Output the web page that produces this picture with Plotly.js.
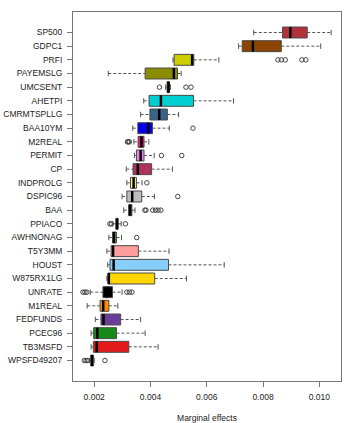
<!DOCTYPE html>
<html>
<head>
<meta charset="utf-8">
<script src="https://cdn.plot.ly/plotly-3.0.1.min.js"></script>
<style>
  html, body { margin: 0; padding: 0; background: #fff; }
  #chart { width: 353px; height: 423px; }
</style>
</head>
<body>
<div id="chart"></div>
<script>
// variables, top to bottom as drawn
var labels = ["SP500", "GDPC1", "PRFI", "PAYEMSLG", "UMCSENT", "AHETPI", "CMRMTSPLLG",
    "BAA10YM", "M2REAL", "PERMIT", "CP", "INDPROLG", "DSPIC96", "BAA", "PPIACO",
    "AWHNONAG", "T5Y3MM", "HOUST", "W875RX1LG", "UNRATE", "M1REAL", "FEDFUNDS",
    "PCEC96", "TB3MSFD", "WPSFD49207"];

// five number summaries
var lowWhisker = [0.00767, 0.00713, 0.00480, 0.00250, 0.00454, 0.00376, 0.00365,
    0.00337, 0.00341, 0.00343, 0.00314, 0.00316, 0.00299, 0.00305, 0.00266,
    0.00252, 0.00245, 0.00248, 0.00245, 0.00186, 0.00175, 0.00204,
    0.00189, 0.00189, 0.00184];
var q1 = [0.00869, 0.00726, 0.00484, 0.00381, 0.00459, 0.00395, 0.00398,
    0.00355, 0.00356, 0.00350, 0.00338, 0.00329, 0.00316, 0.00322, 0.00277,
    0.00265, 0.00260, 0.00256, 0.00249, 0.00231, 0.00221, 0.00224,
    0.00198, 0.00197, 0.00188];
var median = [0.00897, 0.00764, 0.00548, 0.00483, 0.00464, 0.00437, 0.00431,
    0.00392, 0.00368, 0.00365, 0.00355, 0.00340, 0.00335, 0.00328, 0.00281,
    0.00271, 0.00267, 0.00269, 0.00252, 0.00245, 0.00232, 0.00233,
    0.00211, 0.00209, 0.00192];
var q3 = [0.00957, 0.00865, 0.00554, 0.00496, 0.00467, 0.00553, 0.00460,
    0.00407, 0.00377, 0.00377, 0.00404, 0.00350, 0.00369, 0.00334, 0.00285,
    0.00279, 0.00357, 0.00464, 0.00415, 0.00265, 0.00252, 0.00294,
    0.00279, 0.00323, 0.00197];
var highWhisker = [0.01042, 0.01005, 0.00643, 0.00509, 0.00471, 0.00695, 0.00500,
    0.00467, 0.00394, 0.00413, 0.00478, 0.00370, 0.00414, 0.00345, 0.00296,
    0.00297, 0.00466, 0.00662, 0.00528, 0.00299, 0.00284, 0.00365,
    0.00381, 0.00427, 0.00200];
var outliers = [
    [], [],
    [0.00853, 0.00865, 0.00879, 0.00938, 0.00952],
    [],
    [0.00432, 0.00526, 0.00544],
    [], [],
    [0.00551],
    [0.00318, 0.00321, 0.00325],
    [0.00439, 0.00511],
    [],
    [0.00387],
    [0.00497],
    [0.00380, 0.00384, 0.00408, 0.00418, 0.00427, 0.00437],
    [0.00256, 0.00261, 0.00311],
    [0.00351],
    [], [], [],
    [0.00160, 0.00167, 0.00174, 0.00316, 0.00325, 0.00334],
    [], [], [], [],
    [0.00165, 0.00171, 0.00176, 0.00238]
];

var fills = ["#B2323A", "#8B4500", "#CDCD00", "#8B8B00", "#008B00", "#00CED1", "#36648B",
    "#0000EE", "#EE1289", "#EE82EE", "#B03060", "#FFF68F", "#BEBEBE", "#F4A460", "#C9C3EA",
    "#90EE90", "#FF9C9C", "#87CEFA", "#FFD700", "#000000", "#FF8C00", "#6A3D9A",
    "#15891A", "#E31A1C", "#222222"];

var n = labels.length;
var pos = labels.map(function (d, i) { return n - i; });

// whisker lines and staples
var wx = [], wy = [], sx = [], sy = [], mx = [], my = [], ox = [], oy = [];
for (var i = 0; i < n; i++) {
    var y = pos[i];
    wx.push(lowWhisker[i], q1[i], null, q3[i], highWhisker[i], null);
    wy.push(y, y, null, y, y, null);
    sx.push(lowWhisker[i], lowWhisker[i], null, highWhisker[i], highWhisker[i], null);
    sy.push(y - 0.2, y + 0.2, null, y - 0.2, y + 0.2, null);
    mx.push(median[i], median[i], null);
    my.push(y - 0.4, y + 0.4, null);
    outliers[i].forEach(function (v) { ox.push(v); oy.push(y); });
}

var whiskers = {
    x: wx, y: wy, type: 'scatter', mode: 'lines',
    line: { color: '#555', width: 1, dash: '3px,2px' },
    hoverinfo: 'skip'
};
var staples = {
    x: sx, y: sy, type: 'scatter', mode: 'lines',
    line: { color: '#555', width: 1 },
    hoverinfo: 'skip'
};
var boxes = {
    y: pos,
    x: q3.map(function (v, i) { return v - q1[i]; }),
    base: q1,
    type: 'bar', orientation: 'h', width: 0.8,
    marker: { color: fills, line: { color: '#4a4a4a', width: 1 } }
};
var medians = {
    x: mx, y: my, type: 'scatter', mode: 'lines',
    line: { color: '#000', width: 2.5 },
    hoverinfo: 'skip'
};
var points = {
    x: ox, y: oy, type: 'scatter', mode: 'markers',
    marker: { symbol: 'circle-open', size: 4.5, color: '#444', line: { width: 1 } }
};

var layout = {
    width: 353, height: 423,
    margin: { l: 73, r: 12, t: 12, b: 42 },
    paper_bgcolor: '#fff', plot_bgcolor: '#fff',
    showlegend: false,
    font: { family: 'Liberation Sans, Arial, sans-serif', size: 8.5, color: '#222' },
    xaxis: {
        range: [0.001246, 0.010771],
        tickvals: [0.002, 0.004, 0.006, 0.008, 0.010],
        tickformat: '.3f',
        ticks: 'outside', ticklen: 5, tickcolor: '#777',
        showline: true, mirror: true, linecolor: '#777', linewidth: 1,
        showgrid: false, zeroline: false,
        ticklabelstandoff: 3,
        tickfont: { size: 8.5, color: '#222' },
        title: { text: 'Marginal effects', font: { size: 8.5, color: '#222' }, standoff: 14 }
    },
    yaxis: {
        range: [-0.5, n + 1.5],
        tickvals: pos, ticktext: labels,
        ticks: 'outside', ticklen: 5, tickcolor: '#777',
        showline: true, mirror: true, linecolor: '#777', linewidth: 1,
        showgrid: false, zeroline: false,
        ticklabelstandoff: 3,
        tickfont: { size: 8.5, color: '#222' }
    }
};

Plotly.newPlot('chart', [whiskers, staples, boxes, medians, points], layout, { displayModeBar: false, staticPlot: true });
</script>
</body>
</html>
